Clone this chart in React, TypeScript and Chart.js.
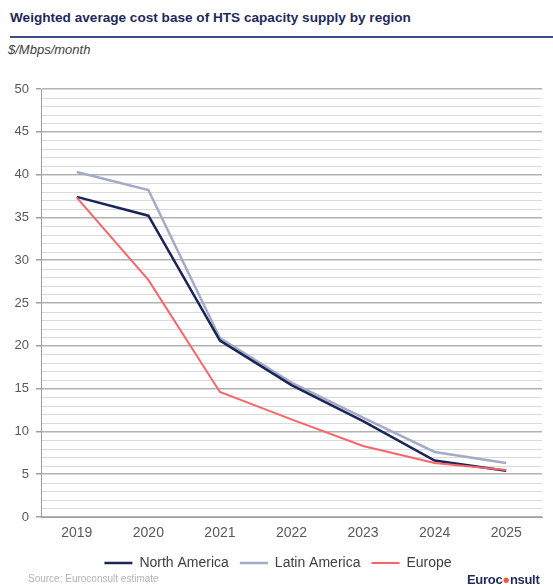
import React, { useEffect, useRef } from "react";
import { Chart, registerables } from "chart.js";

Chart.register(...registerables);

const years = ["2019", "2020", "2021", "2022", "2023", "2024", "2025"];
const northAmerica = [37.4, 35.2, 20.6, 15.4, 11.2, 6.6, 5.4];
const latinAmerica = [40.3, 38.2, 20.9, 15.7, 11.6, 7.6, 6.3];
const europe = [37.3, 27.7, 14.6, 11.4, 8.3, 6.3, 5.5];

const FONT = "'Liberation Sans', Arial, sans-serif";

// Light unit gridlines between the labelled 5-step lines
const minorGrid = {
  id: "minorGrid",
  beforeDatasetsDraw(chart: any) {
    const y = chart.scales.y;
    const area = chart.chartArea;
    const ctx = chart.ctx;
    ctx.save();
    ctx.strokeStyle = "#dadada";
    ctx.lineWidth = 1;
    for (let v = Math.ceil(y.min); v <= y.max; v++) {
      if (v % 5 === 0) continue;
      const py = Math.round(y.getPixelForValue(v)) + 0.5;
      ctx.beginPath();
      ctx.moveTo(area.left + 1, py);
      ctx.lineTo(area.right, py);
      ctx.stroke();
    }
    ctx.restore();
  },
};

export default function App() {
  const canvasRef = useRef<HTMLCanvasElement | null>(null);

  useEffect(() => {
    const canvas = canvasRef.current;
    if (!canvas) return;
    const chart = new Chart(canvas, {
      type: "line",
      plugins: [minorGrid],
      data: {
        labels: years,
        datasets: [
          {
            label: "North America",
            data: northAmerica,
            borderColor: "#1a2558",
            backgroundColor: "#1a2558",
            borderWidth: 2.5,
            pointRadius: 0,
            tension: 0,
            order: 1,
          },
          {
            label: "Latin America",
            data: latinAmerica,
            borderColor: "#a4abc6",
            backgroundColor: "#a4abc6",
            borderWidth: 2.5,
            pointRadius: 0,
            tension: 0,
            order: 2,
          },
          {
            label: "Europe",
            data: europe,
            borderColor: "#fb6468",
            backgroundColor: "#fb6468",
            borderWidth: 2,
            pointRadius: 0,
            tension: 0,
            order: 0,
          },
        ],
      },
      options: {
        animation: false,
        responsive: false,
        maintainAspectRatio: false,
        layout: { padding: { top: 29, right: 11, left: 14, bottom: 5 } },
        plugins: {
          tooltip: { enabled: false },
          legend: {
            position: "bottom",
            labels: {
              usePointStyle: true,
              pointStyle: "line",
              pointStyleWidth: 28,
              boxHeight: 14,
              padding: 11,
              color: "#404040",
              font: { family: FONT, size: 14 },
              sort: (a: any, b: any) => a.datasetIndex - b.datasetIndex,
            },
          },
        },
        scales: {
          x: {
            offset: true,
            afterFit: (s: any) => {
              s.height = 28;
            },
            grid: { display: false, drawTicks: false },
            border: { display: true, color: "#a0a0a0", width: 1 },
            ticks: {
              color: "#595959",
              padding: 8,
              font: { family: FONT, size: 14 },
            },
          },
          y: {
            min: 0,
            max: 50,
            afterFit: (s: any) => {
              s.width = 27;
            },
            border: { display: true, color: "#a0a0a0", width: 1 },
            grid: {
              lineWidth: 1.5,
              tickLength: 5,
              color: "#b2b2b2",
              tickColor: "#a0a0a0",
            },
            ticks: {
              stepSize: 5,
              padding: 7,
              color: "#595959",
              font: { family: FONT, size: 13 },
            },
          },
        },
      },
    });
    return () => chart.destroy();
  }, []);

  return (
    <div
      style={{
        position: "absolute",
        left: 0,
        top: 0,
        width: 553,
        height: 585,
        background: "#ffffff",
        overflow: "hidden",
        fontFamily: FONT,
      }}
    >
      <div
        style={{
          position: "absolute",
          left: 10,
          top: 10,
          fontSize: 13.6,
          fontWeight: "bold",
          color: "#1f2a5a",
          whiteSpace: "nowrap",
          lineHeight: "16px",
        }}
      >
        Weighted average cost base of HTS capacity supply by region
      </div>
      <div
        style={{
          position: "absolute",
          left: 10,
          top: 36,
          width: 543,
          height: 1.5,
          background: "#3d4c86",
        }}
      />
      <div
        style={{
          position: "absolute",
          left: 8,
          top: 42,
          fontSize: 13,
          fontStyle: "italic",
          color: "#404040",
          whiteSpace: "nowrap",
          lineHeight: "16px",
        }}
      >
        $/Mbps/month
      </div>
      <canvas
        ref={canvasRef}
        width={553}
        height={525}
        style={{ position: "absolute", left: 0, top: 60, width: 553, height: 525 }}
      />
      <div
        style={{
          position: "absolute",
          left: 28,
          top: 573,
          fontSize: 10,
          color: "#b4b4b4",
          whiteSpace: "nowrap",
          lineHeight: "12px",
        }}
      >
        Source: Euroconsult estimate
      </div>
      <div
        style={{
          position: "absolute",
          left: 467,
          top: 572,
          fontSize: 13,
          fontWeight: "bold",
          color: "#1f2a5a",
          whiteSpace: "nowrap",
          lineHeight: "15px",
          letterSpacing: -0.3,
        }}
      >
        Euroc<span style={{ color: "#f05a3c" }}>●</span>nsult
      </div>
    </div>
  );
}
